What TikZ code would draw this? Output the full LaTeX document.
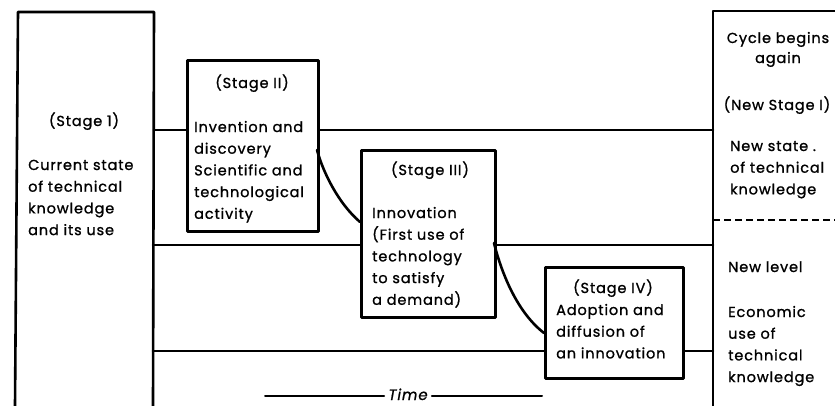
\documentclass[tikz,border=0pt]{standalone}
\usepackage{fontspec}
\setmainfont{Poppins}[LetterSpace=6, FakeBold=1.1]
\newcommand{\lines}[1]{\begin{tabular}[t]{@{}l@{}}#1\end{tabular}}
\begin{document}
\begin{tikzpicture}[x=1pt,y=-1pt,
  rule/.style={line width=2.6pt, line cap=round, line join=round},
  stagebox/.style={draw, rule, rectangle, inner sep=0pt, anchor=north west},
  txt/.style={inner sep=0pt, font=\fontsize{14.5}{21.7}\selectfont},
  lbl/.style={txt, anchor=base west},
  clbl/.style={txt, anchor=base}]
\useasboundingbox (0,0) rectangle (835,405);

% stage boxes
\node[stagebox, minimum width=131pt, minimum height=171pt] (s2) at (186,59) {};
\node[stagebox, minimum width=134pt, minimum height=167pt] (s3) at (360,149) {};
\node[stagebox, minimum width=138pt, minimum height=111pt] (s4) at (544,266) {};

% open columns at both ends
\coordinate (l1) at (15,406); \coordinate (l2) at (18,12);
\coordinate (l3) at (154,12); \coordinate (l4) at (153,406);
\draw[rule] (l1) -- (l2) -- (l3) -- (l4);
\coordinate (r1) at (713,406); \coordinate (r2) at (713,11); \coordinate (r3) at (836,11);
\draw[rule] (r1) -- (r2) -- (r3);
\coordinate (d1) at (713,220); \coordinate (d2) at (836,220);
\draw[line width=1.6pt, dash pattern=on 7pt off 4pt] (d1) -- (d2);

% level lines
\coordinate (a1) at (154,130); \coordinate (a2) at (713,130);
\draw[rule] (a1) -- (a1 -| s2.west);
\draw[rule] (a1 -| s2.east) -- (a2);
\coordinate (b1) at (153,245); \coordinate (b2) at (713,245);
\draw[rule] (b1) -- (b1 -| s3.west);
\draw[rule] (b1 -| s3.east) -- (b2);
\coordinate (c1) at (153,351); \coordinate (c2) at (713,351);
\draw[rule] (c1) -- (c1 -| s4.west);
\draw[rule] (c1 -| s4.east) -- (c2);

% transitions between stages
\coordinate (t1) at (317,150); \coordinate (t2) at (360,222);
\draw[rule] (t1) .. controls (323,172) and (338,203) .. (t2);
\coordinate (u1) at (494,243); \coordinate (u2) at (544,333);
\draw[rule] (u1) .. controls (502,275) and (518,313) .. (u2);

% texts
\node[clbl] (h1) at (84,126) {(Stage 1)};
\node[lbl] (x1) at (28,170) {\lines{Current state\\of technical\\knowledge\\and its use}};

\node[clbl] (h2) at (252,88) {(Stage II)};
\node[lbl] (x2) at (194,132) {\lines{Invention and\\discovery\\Scientific and\\technological\\activity}};

\node[clbl] (h3) at (430,175) {(Stage III)};
\node[lbl] (x3) at (372,218) {\lines{Innovation\\(First use of\\technology\\to satisfy\\a demand)}};

\node[clbl] (h4) at (613,293) {(Stage IV)};
\node[lbl] (x4) at (556,315) {\lines{Adoption and\\diffusion of\\an innovation}};

\node[clbl] (h5) at (778,43) {Cycle begins};
\node[clbl] (h6) at (778,63) {again};
\node[clbl] (h7) at (777,110) {(New Stage I)};
\node[lbl] (x5) at (730,151) {\lines{New state .\\of technical\\knowledge}};
\node[lbl] (x6) at (728,272) {New level};
\node[lbl] (x7) at (728,317) {\lines{Economic\\use of\\technical\\knowledge}};

% time axis
\node[anchor=base, inner xsep=4pt, inner ysep=0pt, font=\fontsize{15}{17}\selectfont\itshape] (tm) at (408,400) {Time};
\coordinate (ta) at (265,396); \coordinate (tb) at (542,396);
\draw[rule, line width=2pt] (ta) -- (tm.west |- ta);
\draw[rule, line width=2pt] (tm.east |- tb) -- (tb);
\end{tikzpicture}
\end{document}
